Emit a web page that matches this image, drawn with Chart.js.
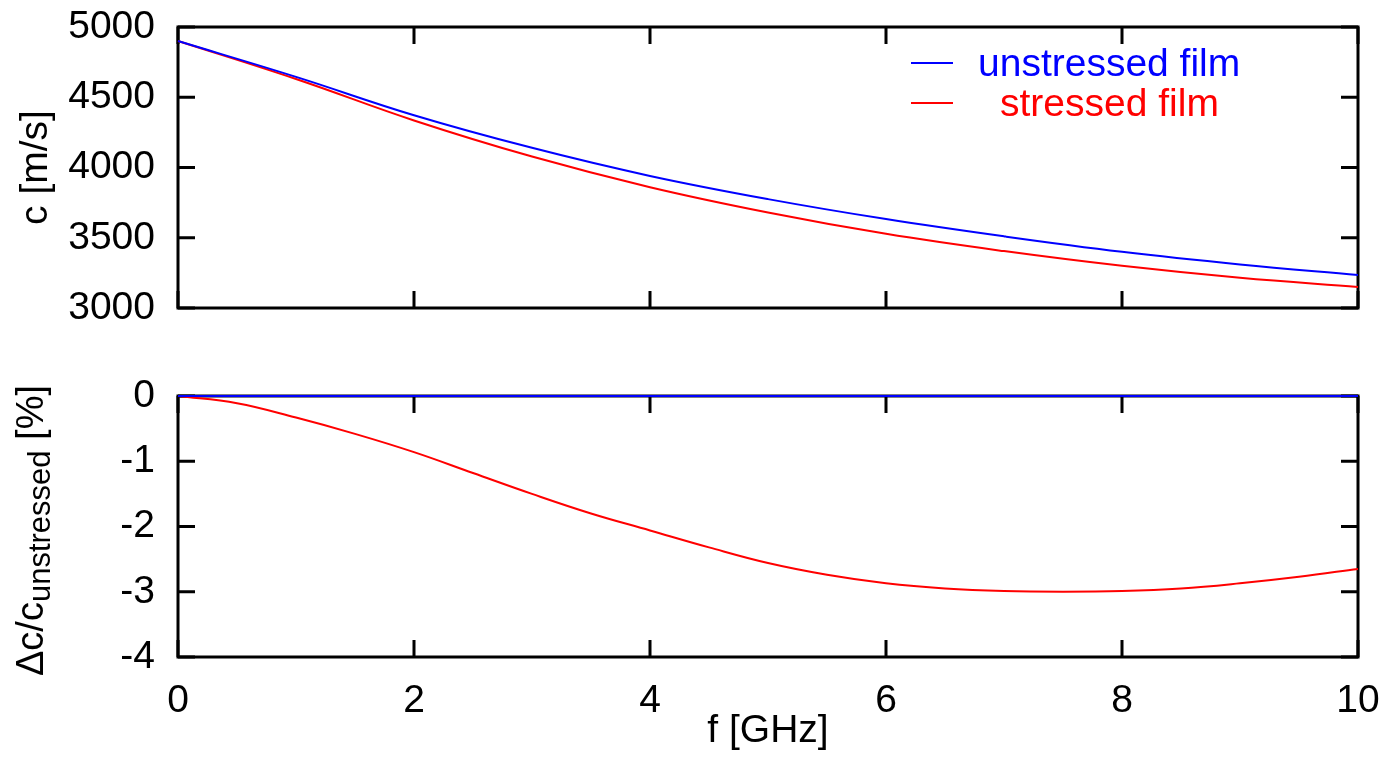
<!DOCTYPE html>
<html><head><meta charset="utf-8">
<script src="https://cdn.jsdelivr.net/npm/chart.js@4.4.0/dist/chart.umd.min.js"></script>
<style>
html,body{margin:0;padding:0;background:#fff;}
#wrap{position:relative;width:1397px;height:759px;overflow:hidden;}
#topc{position:absolute;left:0;top:0;}
#botc{position:absolute;left:0;top:340px;}
</style></head><body>
<div id="wrap"><canvas id="topc" width="1397" height="340"></canvas><canvas id="botc" width="1397" height="419"></canvas></div>
<script>
// ---- data ----
const freq = [0,1,2,3,4,5,6,7,8,9,10];
const cUnstressed = [4900,4645,4372,4140,3940,3775,3633,3510,3400,3310,3235];
const cStressed   = [4900,4630,4335,4078,3860,3680,3528,3405,3300,3215,3150];
const freqDelta = [0,0.5,1,1.5,2,2.5,3,3.5,4,4.5,5,5.5,6,6.5,7,7.5,8,8.5,9,9.5,10];
const deltaUnstressed = [0,0,0,0,0,0,0,0,0,0,0,0,0,0,0,0,0,0,0,0,0];
const deltaStressed = [0,-0.11,-0.33,-0.58,-0.86,-1.18,-1.5,-1.8,-2.06,-2.32,-2.56,-2.74,-2.87,-2.95,-2.99,-3.0,-2.99,-2.95,-2.87,-2.77,-2.65];
const xTicks = [0,2,4,6,8,10];
const topYTicks = [3000,3500,4000,4500,5000];
const botYTicks = [-4,-3,-2,-1,0];
const seriesLabels = ['unstressed film','stressed film'];
const seriesColors = ['#0000ff','#ff0000'];
const xTitle = 'f [GHz]';
const topYTitle = 'c [m/s]';
const botYTitleMain = 'Δc/c';
const botYTitleSub = 'unstressed';
const botYTitleEnd = ' [%]';

const FONT = '"Liberation Sans", Arial, Helvetica, sans-serif';
Chart.defaults.font.family = FONT;
Chart.defaults.font.size = 39;
Chart.defaults.color = '#000';

const pts = (xs, ys) => xs.map((x,i)=>({x:x, y:ys[i]}));

const framePlugin = {
  id:'frame',
  beforeDatasetsDraw(chart){
    const {ctx, chartArea:a, scales} = chart;
    const L = 17;
    ctx.save();
    ctx.strokeStyle = '#000';
    ctx.lineWidth = 3;
    ctx.beginPath();
    scales.x.ticks.forEach(t=>{
      const p = scales.x.getPixelForValue(t.value);
      ctx.moveTo(p, a.bottom); ctx.lineTo(p, a.bottom - L);
      ctx.moveTo(p, a.top); ctx.lineTo(p, a.top + L);
    });
    scales.y.ticks.forEach(t=>{
      const p = scales.y.getPixelForValue(t.value);
      ctx.moveTo(a.left, p); ctx.lineTo(a.left + L, p);
      ctx.moveTo(a.right, p); ctx.lineTo(a.right - L, p);
    });
    ctx.stroke();
    ctx.strokeRect(a.left, a.top, a.right - a.left, a.bottom - a.top);
    ctx.restore();
  }
};

const legendPlugin = {
  id:'keybox',
  afterDatasetsDraw(chart){
    const ctx = chart.ctx;
    const textX = [978, 1000];
    ctx.save();
    ctx.font = '39px ' + FONT;
    ctx.textBaseline = 'alphabetic';
    ctx.textAlign = 'left';
    chart.data.datasets.forEach((ds, i)=>{
      const y = 63 + 40*i;
      ctx.strokeStyle = ds.borderColor;
      ctx.lineWidth = 2;
      ctx.beginPath(); ctx.moveTo(911, y); ctx.lineTo(953, y); ctx.stroke();
      ctx.fillStyle = ds.borderColor;
      ctx.fillText(ds.label, textX[i], y + 13);
    });
    ctx.restore();
  }
};

const botTitlePlugin = {
  id:'botTitle',
  afterDraw(chart){
    const ctx = chart.ctx, a = chart.chartArea;
    ctx.save();
    ctx.translate(43, (a.top + a.bottom)/2 + 4);
    ctx.rotate(-Math.PI/2);
    ctx.fillStyle = '#000';
    ctx.textBaseline = 'alphabetic';
    ctx.textAlign = 'left';
    const big = '38px ' + FONT, small = '31px ' + FONT;
    ctx.font = big; const w1 = ctx.measureText(botYTitleMain).width; const w3 = ctx.measureText(botYTitleEnd).width;
    ctx.font = small; const w2 = ctx.measureText(botYTitleSub).width;
    let x = -(w1 + w2 + w3)/2;
    ctx.font = big; ctx.fillText(botYTitleMain, x, 0); x += w1;
    ctx.font = small; ctx.fillText(botYTitleSub, x, 7); x += w2;
    ctx.font = big; ctx.fillText(botYTitleEnd, x, 0);
    ctx.restore();
  }
};

const plain = v => String(v);
function zeroPad(s){ s.paddingTop = 0; s.paddingBottom = 0; s.paddingLeft = 0; s.paddingRight = 0; }

function xScale(showLabels, height, title){
  return {
    type:'linear', min:0, max:10,
    afterBuildTicks(s){ s.ticks = xTicks.map(v=>({value:v})); },
    afterFit(s){ s.height = height; zeroPad(s); },
    grid:{display:false, drawTicks:false},
    border:{display:false},
    ticks:{display:showLabels, padding:21, autoSkip:false, maxRotation:0, font:{size:39}, callback:plain},
    title: title ? {display:true, text:title, font:{size:39}, padding:{top:0,bottom:4}} : {display:false}
  };
}
function yScale(min, max, tickVals, title){
  return {
    type:'linear', min:min, max:max,
    afterBuildTicks(s){ s.ticks = tickVals.map(v=>({value:v})); },
    afterFit(s){ s.width = 178; zeroPad(s); },
    grid:{display:false, drawTicks:false},
    border:{display:false},
    ticks:{padding:23, autoSkip:false, font:{size:39}, callback:plain},
    title: title ? {display:true, text:title, font:{size:39}, padding:{top:13,bottom:0}} : {display:false}
  };
}
const lineDs = (label, color, data) => ({
  label, data, borderColor:color, backgroundColor:color, borderWidth:2,
  pointRadius:0, tension:0.4, fill:false, clip:6
});

new Chart(document.getElementById('topc'), {
  type:'line',
  data:{datasets:[
    lineDs(seriesLabels[0], seriesColors[0], pts(freq, cUnstressed)),
    lineDs(seriesLabels[1], seriesColors[1], pts(freq, cStressed))
  ]},
  options:{
    responsive:false, animation:false, devicePixelRatio:1,
    layout:{padding:{left:0, right:39, top:27, bottom:0}},
    plugins:{legend:{display:false}, tooltip:{enabled:false}},
    scales:{ x:xScale(false, 32, null), y:yScale(3000, 5000, topYTicks, topYTitle) }
  },
  plugins:[framePlugin, legendPlugin]
});

new Chart(document.getElementById('botc'), {
  type:'line',
  data:{datasets:[
    lineDs(seriesLabels[0], seriesColors[0], pts(freqDelta, deltaUnstressed)),
    lineDs(seriesLabels[1], seriesColors[1], pts(freqDelta, deltaStressed))
  ]},
  options:{
    responsive:false, animation:false, devicePixelRatio:1,
    layout:{padding:{left:0, right:39, top:56, bottom:0}},
    plugins:{legend:{display:false}, tooltip:{enabled:false}},
    scales:{ x:xScale(true, 102, xTitle), y:yScale(-4, 0, botYTicks, null) }
  },
  plugins:[framePlugin, botTitlePlugin]
});
</script>
</body></html>
